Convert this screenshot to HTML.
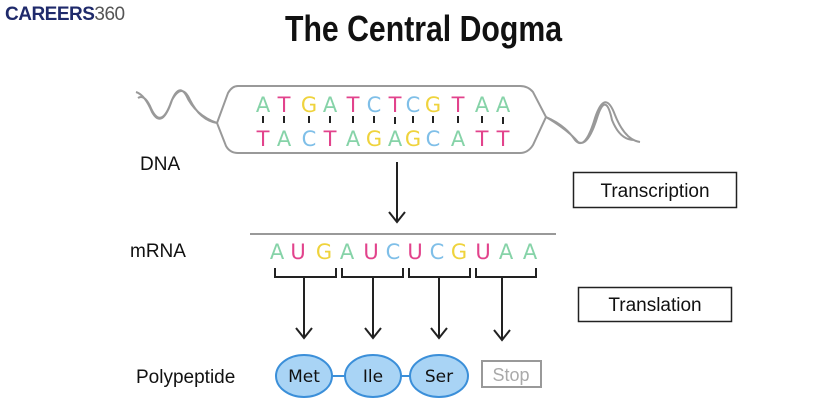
<!DOCTYPE html>
<html><head><meta charset="utf-8"><style>
body{margin:0;background:#fff;}
svg{display:block}
</style></head><body>
<svg width="839" height="414" viewBox="0 0 839 414" xmlns="http://www.w3.org/2000/svg" font-family="Liberation Sans, sans-serif">
<text x="5" y="20" font-size="19" font-weight="bold" fill="#1f2a6b" letter-spacing="-0.5">CAREERS<tspan font-weight="normal" fill="#555">360</tspan></text>
<text x="285" y="41" textLength="277" lengthAdjust="spacingAndGlyphs" font-weight="bold" font-size="36" fill="#111">The Central Dogma</text>
<!-- DNA -->
<g fill="none" stroke="#999" stroke-width="2">
<path d="M238 86 L520 86 Q528 86 533 92 L546 117 L533 145 Q528 153 520 153 L238 153 Q230 153 226 146 L217 123 L228 93 Q232 86 238 86 Z"/>
<path d="M217 123 Q200 120 190 100 Q182 82 172 100 Q162 130 152 112 Q145 95 136 92 M217 123 Q195 115 186 95 Q178 82 170 105 Q160 130 150 106 Q144 94 138 98"/>
<path d="M546 117 Q565 125 575 140 Q585 152 595 118 Q605 88 615 115 Q625 140 640 142 M546 117 Q568 130 578 142 Q588 148 598 115 Q606 92 612 120 Q620 140 634 140"/>
</g>
<g font-size="21" text-anchor="middle" font-family="DejaVu Sans, sans-serif">
<text x="263" y="112" fill="#86d3a8">A</text><text x="284" y="112" fill="#e2438c">T</text><text x="309" y="112" fill="#efd33c">G</text><text x="330" y="112" fill="#86d3a8">A</text><text x="353" y="112" fill="#e2438c">T</text><text x="374" y="112" fill="#7fbfe8">C</text><text x="395" y="112" fill="#e2438c">T</text><text x="413" y="112" fill="#7fbfe8">C</text><text x="433" y="112" fill="#efd33c">G</text><text x="458" y="112" fill="#e2438c">T</text><text x="482" y="112" fill="#86d3a8">A</text><text x="503" y="112" fill="#86d3a8">A</text>
<text x="263" y="146" fill="#e2438c">T</text><text x="284" y="146" fill="#86d3a8">A</text><text x="309" y="146" fill="#7fbfe8">C</text><text x="330" y="146" fill="#e2438c">T</text><text x="353" y="146" fill="#86d3a8">A</text><text x="374" y="146" fill="#efd33c">G</text><text x="395" y="146" fill="#86d3a8">A</text><text x="413" y="146" fill="#efd33c">G</text><text x="433" y="146" fill="#7fbfe8">C</text><text x="458" y="146" fill="#86d3a8">A</text><text x="482" y="146" fill="#e2438c">T</text><text x="503" y="146" fill="#e2438c">T</text>
</g>
<g stroke="#222" stroke-width="2">
<line x1="263" y1="116" x2="263" y2="123"/><line x1="284" y1="116" x2="284" y2="123"/><line x1="309" y1="116" x2="309" y2="123"/><line x1="330" y1="116" x2="330" y2="123"/><line x1="353" y1="116" x2="353" y2="123"/><line x1="374" y1="116" x2="374" y2="123"/><line x1="395" y1="117" x2="395" y2="124"/><line x1="413" y1="116" x2="413" y2="123"/><line x1="433" y1="116" x2="433" y2="123"/><line x1="458" y1="116" x2="458" y2="123"/><line x1="482" y1="116" x2="482" y2="123"/><line x1="503" y1="117" x2="503" y2="124"/>
</g>
<text x="140" y="170" font-size="19" fill="#111">DNA</text>
<g stroke="#222" stroke-width="2" fill="none">
<line x1="397" y1="162" x2="397" y2="222"/><path d="M389 212 L397 222 L405 212"/>
</g>
<rect x="573.5" y="172.5" width="163" height="35" fill="#fff" stroke="#222" stroke-width="1.5"/>
<text x="655" y="197" font-size="19" text-anchor="middle" fill="#111">Transcription</text>
<!-- mRNA -->
<line x1="250" y1="234" x2="556" y2="234" stroke="#999" stroke-width="2"/>
<text x="130" y="257" font-size="19" fill="#111">mRNA</text>
<g font-size="21" text-anchor="middle" font-family="DejaVu Sans, sans-serif">
<text x="277" y="259" fill="#86d3a8">A</text><text x="298" y="259" fill="#e2438c">U</text><text x="324" y="259" fill="#efd33c">G</text><text x="347" y="259" fill="#86d3a8">A</text><text x="371" y="259" fill="#e2438c">U</text><text x="393" y="259" fill="#7fbfe8">C</text><text x="415" y="259" fill="#e2438c">U</text><text x="437" y="259" fill="#7fbfe8">C</text><text x="459" y="259" fill="#efd33c">G</text><text x="483" y="259" fill="#e2438c">U</text><text x="506" y="259" fill="#86d3a8">A</text><text x="530" y="259" fill="#86d3a8">A</text>
</g>
<g stroke="#222" stroke-width="2" fill="none">
<path d="M275 268 V277 H336 V268"/><path d="M342 268 V277 H403 V268"/><path d="M409 268 V277 H470 V268"/><path d="M476 268 V277 H536 V268"/>
<line x1="304" y1="277" x2="304" y2="338"/><path d="M296 328 L304 338 L312 328"/>
<line x1="373" y1="277" x2="373" y2="338"/><path d="M365 328 L373 338 L381 328"/>
<line x1="439" y1="277" x2="439" y2="338"/><path d="M431 328 L439 338 L447 328"/>
<line x1="502" y1="277" x2="502" y2="340"/><path d="M494 330 L502 340 L510 330"/>
</g>
<rect x="578.5" y="287.5" width="153" height="34" fill="#fff" stroke="#222" stroke-width="1.5"/>
<text x="655" y="311" font-size="19" text-anchor="middle" fill="#111">Translation</text>
<!-- polypeptide -->
<text x="136" y="383" font-size="19" fill="#111">Polypeptide</text>
<line x1="300" y1="376" x2="440" y2="376" stroke="#3b8fd9" stroke-width="2"/>
<g fill="#a9d4f5" stroke="#3b8fd9" stroke-width="2">
<ellipse cx="304" cy="376" rx="28" ry="21"/><ellipse cx="373" cy="376" rx="28" ry="21"/><ellipse cx="439" cy="376" rx="29" ry="21"/>
</g>
<g font-size="17" text-anchor="middle" fill="#111" font-family="DejaVu Sans, sans-serif">
<text x="304" y="382">Met</text><text x="373" y="382">Ile</text><text x="439" y="382">Ser</text>
</g>
<rect x="482" y="361" width="59" height="26" fill="#fff" stroke="#999" stroke-width="2"/>
<text x="511" y="381" font-size="18" text-anchor="middle" fill="#aaa">Stop</text>
</svg>
</body></html>
